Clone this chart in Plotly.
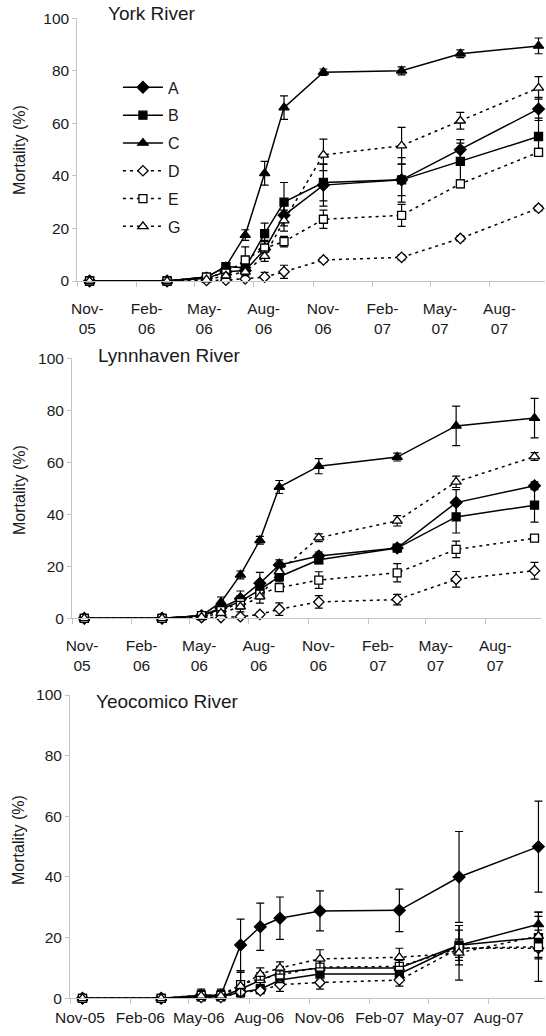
import plotly.graph_objects as go

# ---------------- data ----------------
dates = ["2005-11-20", "2006-03-20", "2006-05-20", "2006-06-19", "2006-07-19",
         "2006-08-18", "2006-09-17", "2006-11-17", "2007-03-18", "2007-06-17",
         "2007-10-16"]

tick_vals = ["2005-11-01", "2006-02-01", "2006-05-01", "2006-08-01",
             "2006-11-01", "2007-02-01", "2007-05-01", "2007-08-01"]
tick_text_wrapped = ["Nov-<br>05", "Feb-<br>06", "May-<br>06", "Aug-<br>06",
                     "Nov-<br>06", "Feb-<br>07", "May-<br>07", "Aug-<br>07"]
tick_text_single = ["Nov-05", "Feb-06", "May-06", "Aug-06",
                    "Nov-06", "Feb-07", "May-07", "Aug-07"]
y_ticks = [0, 20, 40, 60, 80, 100]

series_names = ["A", "B", "C", "D", "E", "G"]
panel_titles = ["York River", "Lynnhaven River", "Yeocomico River"]

# York River
york_A = [0, 0, 1, 3.5, 4, 12, 25, 36.5, 38.5, 50, 65.5]
york_A_err = [0, 0, 0.5, 1, 1.5, 3, 4, 8, 8.5, 3.8, 4.4]
york_B = [0, 0, 1.5, 5.5, 5, 18, 30, 37.5, 38.5, 45.5, 55]
york_B_err = [0, 0, 0.5, 1.5, 2, 4, 7.5, 7, 6, 7, 7]
york_C = [0, 0, 1.5, 5.5, 17.5, 41, 66, 79.5, 80, 86.5, 89.5]
york_C_err = [0, 0, 0.5, 1.5, 2, 4.5, 4.5, 1.2, 1.5, 1.5, 3]
york_D = [0, 0, 0.2, 0.3, 0.8, 1.5, 3.5, 8, 9, 16.2, 27.7]
york_D_err = [0, 0, 0.2, 0.5, 1, 1.8, 2.5, 0.8, 1, 1, 1]
york_E = [0, 0, 1.5, 3, 8, 12.5, 15, 23.5, 25, 37, 49]
york_E_err = [0, 0, 0.5, 1, 5, 3, 2, 3.5, 4.2, 1.5, 1.5]
york_G = [0, 0, 0.5, 2, 3.5, 9.5, 23, 48, 51.5, 61, 73.5]
york_G_err = [0, 0, 0.3, 1, 1.5, 2, 4, 6, 7, 3.2, 4.3]

# Lynnhaven River
lynn_A = [0, 0, 1, 4, 7.5, 13.5, 20.5, 24, 27, 44.5, 51]
lynn_A_err = [0, 0, 0.5, 1, 3, 4.2, 2, 1.5, 1, 5, 1.5]
lynn_B = [0, 0, 1, 3.5, 6.5, 11, 16, 22.5, 27, 39, 43.5]
lynn_B_err = [0, 0, 0.5, 1, 2, 3, 2, 1.5, 1, 6.2, 6.5]
lynn_C = [0, 0, 1, 6.2, 16.7, 30, 50.5, 58.5, 62, 74, 77]
lynn_C_err = [0, 0, 0.5, 2, 1.5, 1.5, 2.5, 2.9, 1.5, 7.6, 7.6]
lynn_D = [0, 0, 0.3, 0.3, 0.6, 1.5, 3.5, 6.3, 7.2, 15, 18.3]
lynn_D_err = [0, 0, 0.2, 0.3, 0.5, 0.8, 2.4, 2.4, 2, 3, 3.2]
lynn_E = [0, 0, 1, 3, 6, 9.5, 11.8, 14.7, 17.5, 26.5, 30.8]
lynn_E_err = [0, 0, 0.5, 1, 2.5, 2, 1.5, 3.2, 3.5, 3.2, 0.5]
lynn_G = [0, 0, 0.5, 2, 4.5, 8.3, 18, 31, 37.5, 52.5, 62.2]
lynn_G_err = [0, 0, 0.3, 1, 2, 2.5, 2, 1.5, 2, 2.2, 1.5]

# Yeocomico River
yeo_A = [0, 0, 1, 1, 17.6, 23.6, 26.4, 28.8, 29, 40, 50]
yeo_A_err = [0, 0, 2, 2, 8.5, 7.8, 7, 6.6, 7, 15, 15]
yeo_B = [0, 0, 0.5, 0.5, 2, 3, 6, 8, 8, 17.5, 20]
yeo_B_err = [0, 0, 1, 1, 1.5, 1.5, 2, 2, 2, 5, 7]
yeo_C = [0, 0, 0.5, 0.5, 3, 6, 8.5, 10, 10, 17.5, 24.4]
yeo_C_err = [0, 0, 1, 1, 2, 2, 2, 2.5, 2.5, 6.5, 4]
yeo_D = [0, 0, 0.3, 0.3, 2, 2.5, 4.5, 5.2, 6, 16.5, 16.5]
yeo_D_err = [0, 0, 1, 1, 1, 1, 2.2, 2.2, 2, 2, 3]
yeo_E = [0, 0, 1, 1, 4.5, 6.5, 7.7, 10.3, 10.5, 16.5, 17]
yeo_E_err = [0, 0, 1.5, 1.5, 4.5, 2, 2.5, 2.5, 2.5, 3, 11.4]
yeo_G = [0, 0, 0.8, 0.8, 4, 8, 10, 13, 13.5, 15, 20.5]
yeo_G_err = [0, 0, 1.5, 1.5, 4.5, 2, 2, 3, 3, 9, 2]

panels = [
    [(york_A, york_A_err), (york_B, york_B_err), (york_C, york_C_err),
     (york_D, york_D_err), (york_E, york_E_err), (york_G, york_G_err)],
    [(lynn_A, lynn_A_err), (lynn_B, lynn_B_err), (lynn_C, lynn_C_err),
     (lynn_D, lynn_D_err), (lynn_E, lynn_E_err), (lynn_G, lynn_G_err)],
    [(yeo_A, yeo_A_err), (yeo_B, yeo_B_err), (yeo_C, yeo_C_err),
     (yeo_D, yeo_D_err), (yeo_E, yeo_E_err), (yeo_G, yeo_G_err)],
]

# ---------------- styles ----------------
styles = {
    "A": dict(symbol="diamond", fill="black", dash="solid", size=9),
    "B": dict(symbol="square", fill="black", dash="solid", size=8),
    "C": dict(symbol="triangle-up", fill="black", dash="solid", size=9),
    "D": dict(symbol="diamond", fill="white", dash="3px,4px", size=8),
    "E": dict(symbol="square", fill="white", dash="3px,4px", size=8),
    "G": dict(symbol="triangle-up", fill="white", dash="3px,4px", size=9),
}

W, H = 546, 1036
# pixel boxes of plot areas: (left, right, top, bottom)
boxes = [(77.3, 545, 18.3, 281), (72, 541, 358.3, 618.3), (70, 545, 695, 998.3)]
title_pos = [(106, 13.5), (96, 355), (94, 701.7)]
ytitle_y = [150, 490, 840]
label_standoff = [8, 8, None]

FONT = "Liberation Sans, Arial, sans-serif"
TXT = "#1a1a1a"
AX = "#c4c4c4"

fig = go.Figure()

for p, series in enumerate(panels):
    xa = "x" if p == 0 else f"x{p+1}"
    ya = "y" if p == 0 else f"y{p+1}"
    for name, (vals, errs) in zip(series_names, series):
        st = styles[name]
        fig.add_trace(go.Scatter(
            x=dates, y=vals, xaxis=xa, yaxis=ya,
            name=name, legendgroup=name, showlegend=(p == 0),
            mode="lines+markers", cliponaxis=False,
            line=dict(color="black", width=1.5, dash=st["dash"]),
            marker=dict(symbol=st["symbol"], size=st["size"], color=st["fill"],
                        line=dict(color="black", width=1.3)),
            error_y=dict(type="data", array=[e if e > 0 else None for e in errs],
                         visible=True, color="black", thickness=1.2, width=4),
        ))

layout = dict(
    template="none",
    width=W, height=H, margin=dict(l=0, r=0, t=0, b=0, autoexpand=False),
    paper_bgcolor="white", plot_bgcolor="white",
    font=dict(family=FONT, size=15.5, color=TXT),
    showlegend=True,
    legend=dict(x=0.216, y=0.932, xanchor="left", yanchor="top",
                bgcolor="rgba(0,0,0,0)", font=dict(size=16, color=TXT),
                tracegroupgap=4, traceorder="grouped", itemwidth=40),
    annotations=[],
)

for p in range(3):
    l, r, t, b = boxes[p]
    sx = "" if p == 0 else str(p + 1)
    xdef = dict(
        domain=[l / W, r / W], anchor="y" + sx, type="date", automargin=False,
        range=["2005-11-01", "2007-10-26"],
        tickmode="array", tickvals=tick_vals,
        ticktext=tick_text_single if p == 2 else tick_text_wrapped,
        ticks="outside", ticklen=5, tickcolor=AX, tickwidth=1,
        showline=True, linecolor=AX, linewidth=1, showgrid=False, zeroline=False,
        ticklabelshift=10, tickfont=dict(size=15.5, color=TXT),
        fixedrange=True,
    )
    if label_standoff[p] is not None:
        xdef["ticklabelstandoff"] = label_standoff[p]
    layout["xaxis" + sx] = xdef
    layout["yaxis" + sx] = dict(
        domain=[(H - b) / H, (H - t) / H], anchor="x" + sx, automargin=False,
        range=[0, 100], tickmode="array", tickvals=y_ticks,
        ticks="outside", ticklen=4, tickcolor=AX, tickwidth=1,
        showline=True, linecolor=AX, linewidth=1, showgrid=False, zeroline=False,
        tickfont=dict(size=15.5, color=TXT), fixedrange=True,
    )
    tx, ty = title_pos[p]
    layout["annotations"].append(dict(
        text=panel_titles[p], xref="paper", yref="paper",
        x=tx / W, y=(H - ty) / H, xanchor="left", yanchor="middle",
        showarrow=False, font=dict(size=19, color=TXT, family=FONT)))
    layout["annotations"].append(dict(
        text="Mortality (%)", xref="paper", yref="paper", textangle=-90,
        x=19 / W, y=(H - ytitle_y[p]) / H, xanchor="center", yanchor="middle",
        showarrow=False, font=dict(size=16, color=TXT, family=FONT)))

fig.update_layout(**layout)
fig.write_html(
    "out.html",
    config={"displayModeBar": False, "responsive": False},
    post_script="document.body.style.margin='0';document.body.style.padding='0';"
                "document.documentElement.style.overflow='hidden';"
                "document.body.style.overflow='hidden';",
)
